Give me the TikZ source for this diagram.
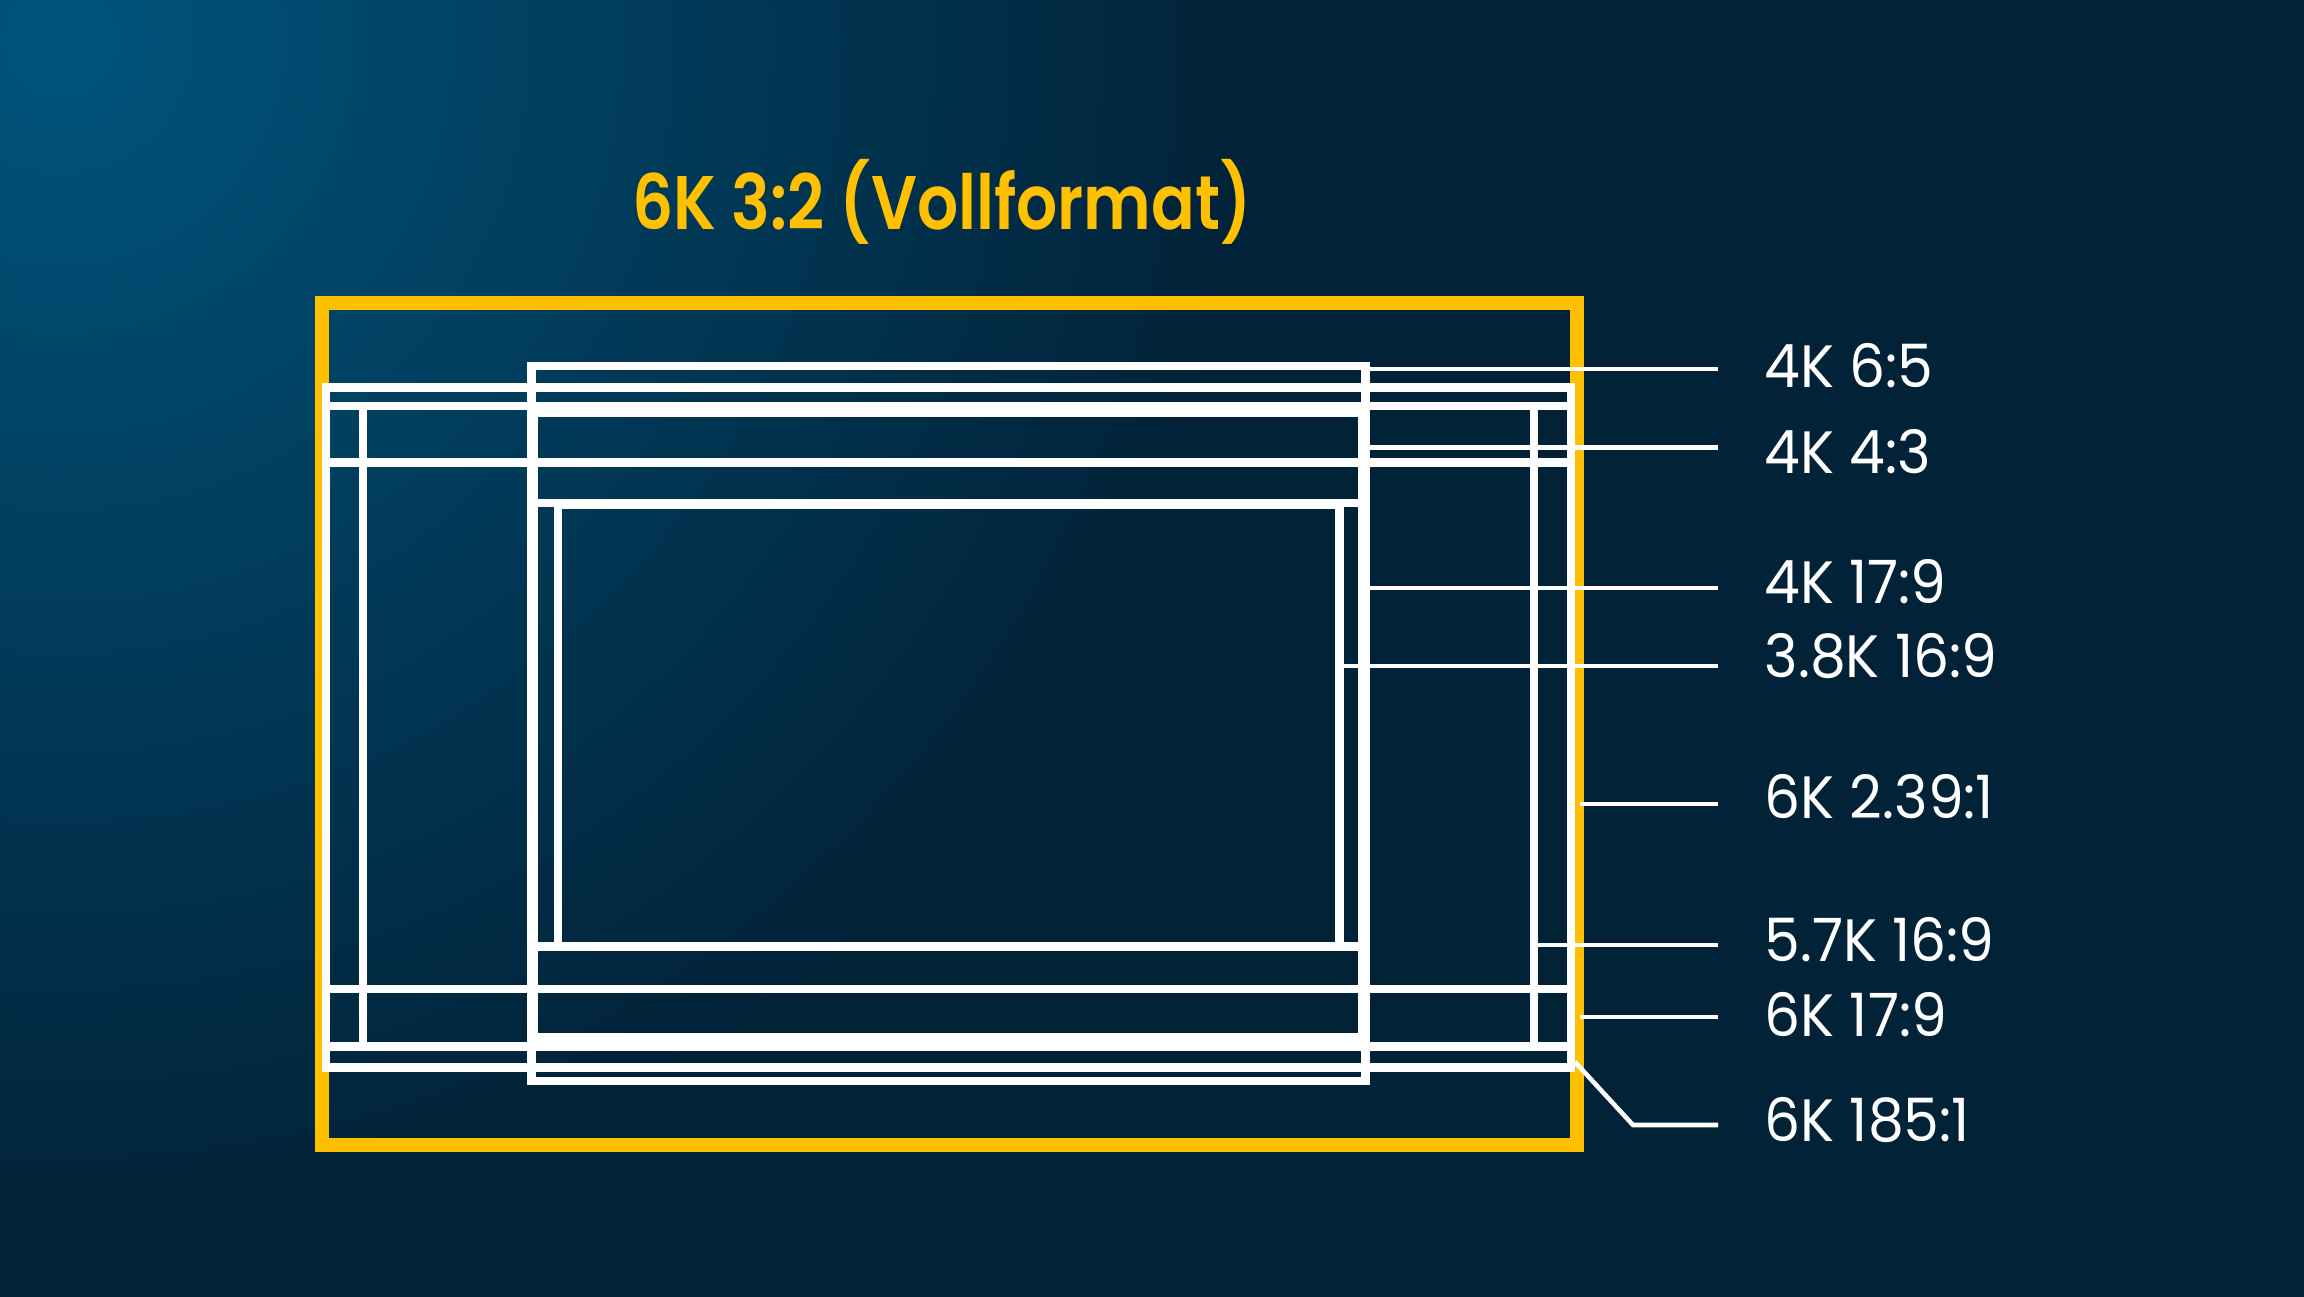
\documentclass[tikz,border=0pt]{standalone}
\usepackage{fontspec}
\setmainfont{Poppins}[FakeStretch=0.95]
\newfontfamily\titlefont{Poppins SemiBold}[FakeStretch=0.85]
\usetikzlibrary{calc}
\usetikzlibrary{positioning}

\definecolor{bgdark}{RGB}{2,34,56}
\definecolor{bglight}{RGB}{0,84,124}
\definecolor{gold}{RGB}{255,192,0}

\begin{document}
\begin{tikzpicture}[x=0.01cm, y=-0.01cm,
    cropbox/.style={draw=white, line width=2.3pt},
    leader/.style={draw=white, line width=1.3pt, shorten >=0.46cm},
    fmtlabel/.style={anchor=base west, inner sep=0pt, text=white, font=\fontsize{17}{20}\selectfont}]

    \useasboundingbox (0,0) rectangle (2304,1296);
    \fill[bgdark] (-20,-20) rectangle (2324,1316);
    \begin{scope}
        \clip (-20,-20) rectangle (2324,1316);
        \shade[inner color=bglight, outer color=bgdark] (60,40) circle (1200);
    \end{scope}

    \node[anchor=base, inner sep=0pt, text=gold, font=\fontsize{21.6}{26}\titlefont] (title) at (942,229) {6K 3:2 (Vollformat)};

    \draw[gold, line width=4pt] (322,303) rectangle (1577,1145);

    \draw[cropbox] (326,387.5) rectangle (1571,1067.5);
    \draw[cropbox] (326,406) rectangle (1571,1046.5);
    \draw[cropbox] (326,462.5) rectangle (1571,989);
    \draw[cropbox] (363,406) rectangle (1534,1046.5);
    \draw[cropbox] (531.5,366) rectangle (1365.5,1081);
    \draw[cropbox] (534,413) rectangle (1362,1037.5);
    \draw[cropbox] (534,503) rectangle (1362,946.5);
    \draw[cropbox] (558,504.5) rectangle (1339.5,946.5);

    \node[fmtlabel] (l65) at (1764,387) {4K 6:5};
    \node[fmtlabel] (l43) at (1764,473) {4K 4:3};
    \node[fmtlabel] (l4k) at (1764,603) {4K 17:9};
    \node[fmtlabel] (l38) at (1764,677) {3.8K 16:9};
    \node[fmtlabel] (l239) at (1764,818) {6K 2.39:1};
    \node[fmtlabel] (l57) at (1764,961) {5.7K 16:9};
    \node[fmtlabel] (l6k) at (1764,1036) {6K 17:9};
    \node[fmtlabel] (l185) at (1764,1141) {6K 185:1};

    \coordinate (c65) at (1369,369);
    \coordinate (c43) at (1369,447.5);
    \coordinate (c4k) at (1369,588);
    \coordinate (c38) at (1343,666);
    \coordinate (c239) at (1580,804);
    \coordinate (c57) at (1538,945);
    \coordinate (c6k) at (1580,1017);
    \coordinate (c185) at (1575,1062);
    \coordinate (k185) at (1633,1125);

    \draw[leader] (c65) -- (c65 -| l65.west);
    \draw[leader] (c43) -- (c43 -| l43.west);
    \draw[leader] (c4k) -- (c4k -| l4k.west);
    \draw[leader] (c38) -- (c38 -| l38.west);
    \draw[leader] (c239) -- (c239 -| l239.west);
    \draw[leader] (c57) -- (c57 -| l57.west);
    \draw[leader] (c6k) -- (c6k -| l6k.west);
    \draw[leader] (c185) -- (k185) -- (k185 -| l185.west);

\end{tikzpicture}
\end{document}
